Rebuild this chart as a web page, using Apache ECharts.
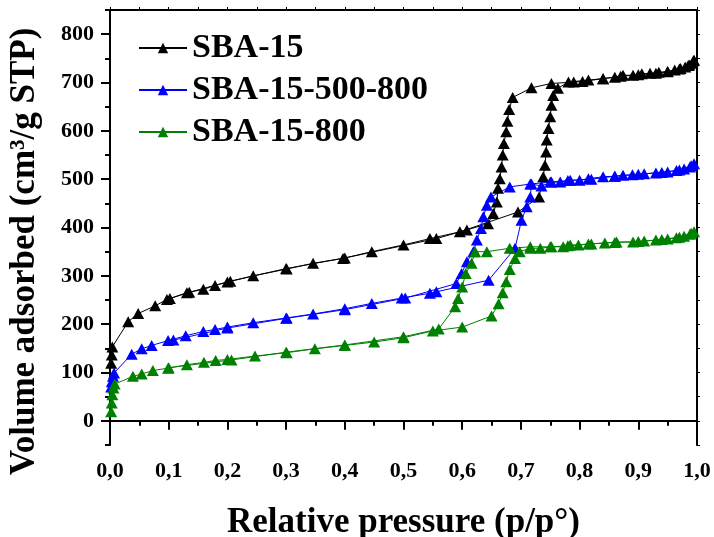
<!DOCTYPE html>
<html>
<head>
<meta charset="utf-8">
<script src="https://cdn.jsdelivr.net/npm/echarts@6/dist/echarts.min.js"></script>
<style>
  html, body { margin: 0; padding: 0; background: #fff; }
  #chart { width: 714px; height: 537px; }
</style>
</head>
<body>
<div id="chart"></div>
<script>
// ---------- data ----------
const seriesNames = ['SBA-15', 'SBA-15-500-800', 'SBA-15-800'];
const seriesColors = ['#000000', '#0000ff', '#008000'];

const xTicks = [0, 0.1, 0.2, 0.3, 0.4, 0.5, 0.6, 0.7, 0.8, 0.9, 1.0];
const yTicks = [0, 100, 200, 300, 400, 500, 600, 700, 800];

// SBA-15 adsorption
const sba15AdsP = [0.002,0.003,0.004,0.031,0.048,0.077,0.097,0.131,0.159,0.179,0.2,0.244,0.301,0.346,0.397,0.446,0.5,0.545,0.596,0.695,0.731,0.738,0.741,0.743,0.744,0.747,0.75,0.752,0.755,0.763,0.781,0.815,0.84,0.86,0.874,0.891,0.906,0.92,0.935,0.95,0.962,0.972,0.98,0.987,0.992,0.995];
const sba15AdsV = [119,136,153,205,222,238,251,265,272,280,287,300,314,326,336,350,364,377,391,432,463,505,529,556,581,605,629,653,673,688,701,705,708,711,715,715,718,719,721,723,726,729,732,736,740,746];
// SBA-15 desorption
const sba15DesP = [0.994,0.985,0.97,0.95,0.93,0.9,0.87,0.84,0.805,0.79,0.752,0.718,0.686,0.68,0.677,0.675,0.671,0.669,0.667,0.664,0.661,0.659,0.653,0.644,0.608,0.556,0.4,0.3,0.205,0.135,0.102];
const sba15DesV = [745,735,728,722,719,716,713,708,702,701,698,689,669,644,620,598,574,550,525,501,481,453,429,408,395,377,337,315,289,266,253];

// SBA-15-500-800 adsorption
const sba500AdsP = [0.002,0.003,0.005,0.007,0.037,0.054,0.071,0.099,0.129,0.159,0.179,0.2,0.244,0.301,0.346,0.4,0.446,0.497,0.545,0.556,0.645,0.69,0.701,0.71,0.716,0.718,0.735,0.752,0.767,0.784,0.8,0.815,0.84,0.86,0.874,0.89,0.91,0.93,0.95,0.965,0.978,0.988,0.995];
const sba500AdsV = [70,81,92,99,138,149,156,166,176,185,189,194,203,213,221,232,243,254,264,267,291,357,415,443,463,490,486,494,494,498,498,501,505,506,508,509,511,513,515,518,521,525,532];
// SBA-15-500-800 desorption
const sba500DesP = [0.99,0.97,0.94,0.9,0.86,0.82,0.78,0.75,0.716,0.681,0.649,0.642,0.636,0.632,0.625,0.619,0.608,0.599,0.59,0.503,0.4,0.3,0.2,0.108];
const sba500DesV = [528,519,514,510,506,500,497,494,490,484,463,446,422,398,374,350,329,305,284,254,230,212,192,167];

// SBA-15-800 adsorption
const sba800AdsP = [0.002,0.003,0.004,0.006,0.008,0.039,0.054,0.073,0.099,0.131,0.16,0.18,0.2,0.247,0.301,0.349,0.4,0.45,0.5,0.55,0.6,0.65,0.662,0.669,0.675,0.681,0.69,0.698,0.716,0.733,0.752,0.772,0.784,0.798,0.815,0.843,0.863,0.891,0.91,0.93,0.95,0.965,0.978,0.988,0.995];
const sba800AdsV = [19,37,54,68,76,92,97,104,109,116,121,125,127,134,141,149,156,163,172,186,194,217,242,265,288,313,336,350,357,357,360,360,364,364,366,368,370,370,372,374,376,379,382,386,391];
// SBA-15-800 desorption
const sba800DesP = [0.99,0.97,0.94,0.9,0.86,0.82,0.78,0.75,0.716,0.681,0.642,0.622,0.616,0.606,0.6,0.593,0.588,0.56,0.5,0.4,0.3,0.207,0.1];
const sba800DesV = [388,380,375,371,369,366,362,360,360,357,350,350,326,305,277,253,236,190,174,157,142,126,110];

// ---------- build ----------
function pairs(p, v) { return p.map((x, i) => [x, v[i]]); }
const seriesData = [
  pairs(sba15AdsP, sba15AdsV).concat(pairs(sba15DesP, sba15DesV)),
  pairs(sba500AdsP, sba500AdsV).concat(pairs(sba500DesP, sba500DesV)),
  pairs(sba800AdsP, sba800AdsV).concat(pairs(sba800DesP, sba800DesV))
];

const FONT = '"Liberation Serif", "Times New Roman", serif';
const minorY = [];
for (let v = -50; v <= 850; v += 50) { if (v % 100 !== 0) minorY.push(v); }

const chart = echarts.init(document.getElementById('chart'), null, { renderer: 'canvas' });
const option = {
  animation: false,
  backgroundColor: '#ffffff',
  grid: { left: 110, right: 17, top: 10, bottom: 92, containLabel: false, outerBoundsMode: 'none' },
  legend: {
    left: 133, top: 26, orient: 'vertical',
    itemWidth: 48, itemHeight: 13, itemGap: 8,
    data: seriesNames,
    textStyle: { fontFamily: FONT, fontWeight: 'bold', fontSize: 34, color: '#000', padding: [0, 0, 0, 0] }
  },
  xAxis: [
    {
      type: 'value', min: 0, max: 1, interval: 0.1, position: 'bottom',
      name: 'Relative pressure (p/p°)', nameLocation: 'middle', nameGap: 60,
      nameTextStyle: { fontFamily: FONT, fontWeight: 'bold', fontSize: 35, color: '#000' },
      axisLine: { show: true, lineStyle: { color: '#000', width: 2 } },
      axisTick: { show: true, inside: false, length: 9, lineStyle: { color: '#000', width: 2 } },
      minorTick: { show: true, splitNumber: 2, length: 5, lineStyle: { color: '#000', width: 2 } },
      splitLine: { show: false },
      axisLabel: {
        show: true, margin: 15, color: '#000', fontFamily: FONT, fontWeight: 'bold', fontSize: 22,
        customValues: xTicks,
        formatter: v => v.toFixed(1).replace('.', ',')
      }
    },
    {
      type: 'value', min: 0, max: 1, interval: 0.05, position: 'top',
      axisLine: { show: true, onZero: false, lineStyle: { color: '#000', width: 2 } },
      axisTick: { show: true, inside: false, length: 3, lineStyle: { color: '#000', width: 1 } },
      axisLabel: { show: false }, splitLine: { show: false }
    }
  ],
  yAxis: [
    {
      type: 'value', min: -50, max: 850, interval: 50, position: 'left',
      name: 'Volume adsorbed (cm³/g STP)', nameLocation: 'middle', nameGap: 68,
      nameTextStyle: { fontFamily: FONT, fontWeight: 'bold', fontSize: 35, color: '#000', padding: [0, 48, 0, 0] },
      axisLine: { show: true, onZero: false, lineStyle: { color: '#000', width: 2 } },
      axisTick: { show: true, inside: false, length: 9, customValues: yTicks, lineStyle: { color: '#000', width: 2 } },
      splitLine: { show: false },
      axisLabel: {
        show: true, margin: 16, color: '#000', fontFamily: FONT, fontWeight: 'bold', fontSize: 22,
        customValues: yTicks
      }
    },
    {
      type: 'value', min: -50, max: 850, interval: 50, position: 'left',
      axisLine: { show: false, onZero: false },
      axisTick: { show: true, inside: false, length: 5, customValues: minorY, lineStyle: { color: '#000', width: 2 } },
      axisLabel: { show: false }, splitLine: { show: false }
    },
    {
      type: 'value', min: -50, max: 850, interval: 50, position: 'right',
      axisLine: { show: true, onZero: false, lineStyle: { color: '#000', width: 2 } },
      axisTick: { show: true, inside: false, length: 3, lineStyle: { color: '#000', width: 1 } },
      axisLabel: { show: false }, splitLine: { show: false }
    }
  ],
  series: seriesNames.map((name, i) => ({
    name: name,
    type: 'line',
    xAxisIndex: 0, yAxisIndex: 0,
    data: seriesData[i],
    symbol: 'triangle',
    symbolSize: [12, 11],
    showSymbol: true,
    color: seriesColors[i],
    itemStyle: { color: seriesColors[i] },
    lineStyle: { color: seriesColors[i], width: 1 },
    clip: false
  }))
};
chart.setOption(option);
</script>
</body>
</html>
